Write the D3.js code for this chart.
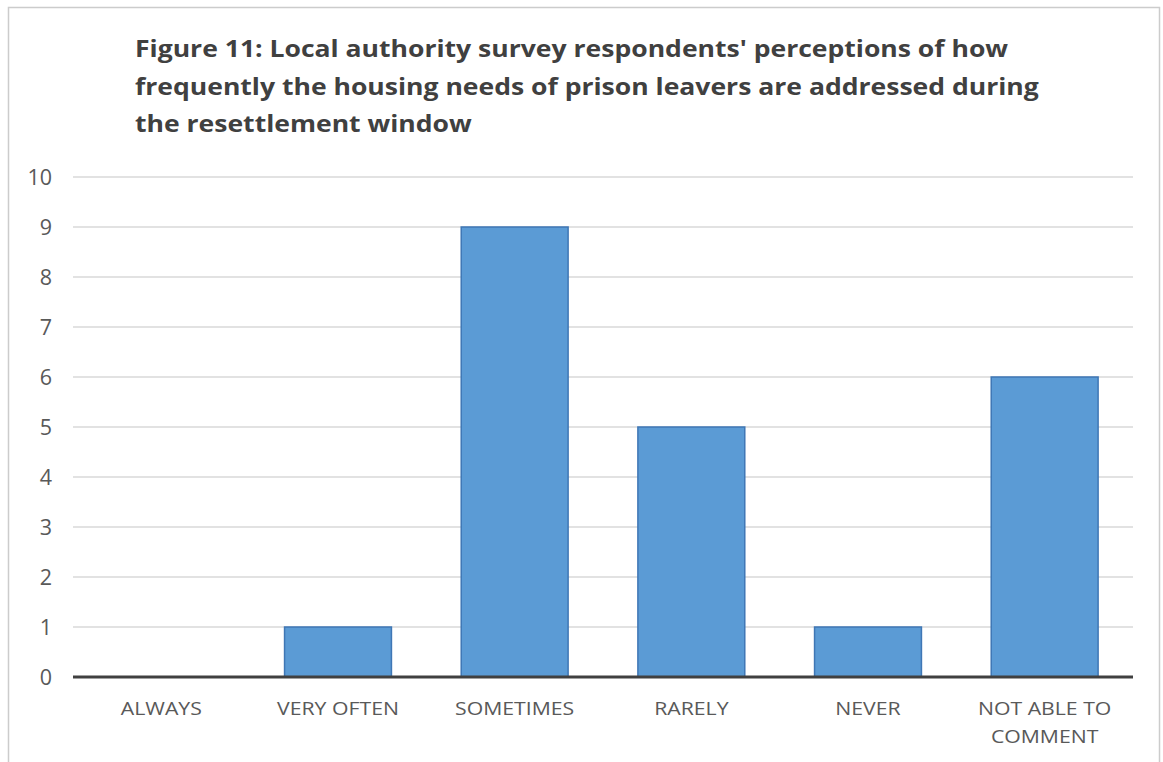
<!DOCTYPE html>
<html><head><meta charset="utf-8">
<script src="https://cdn.jsdelivr.net/npm/d3@7"></script>
<style>body{margin:0;background:#fff;}svg{display:block;}</style>
</head><body>
<script>
const categories = [["ALWAYS"],["VERY OFTEN"],["SOMETIMES"],["RARELY"],["NEVER"],["NOT ABLE TO","COMMENT"]];
const values = [0,1,9,5,1,6];
const yTicks = [0,1,2,3,4,5,6,7,8,9,10];
const titleLines = ["Figure 11: Local authority survey respondents' perceptions of how",
  "frequently the housing needs of prison leavers are addressed during",
  "the resettlement window"];

const W=1163,H=762;
const svg=d3.select("body").append("svg").attr("width",W).attr("height",H);
svg.append("rect").attr("x",8.5).attr("y",7.5).attr("width",1151).attr("height",800)
  .attr("fill","#fff").attr("stroke","#cccccc").attr("stroke-width",1.5);

const font="'Open Sans', sans-serif";
const sx=1.18;
svg.append("g").selectAll("text").data(titleLines).join("text")
  .attr("transform",(d,i)=>`translate(135,${57+i*37.5}) scale(${sx},1)`)
  .attr("font-family",font).attr("font-weight","bold").attr("font-size",22.5)
  .attr("fill","#404040").text(d=>d);

const x=d3.scaleBand().domain(categories.map((d,i)=>i)).range([73,1133]).paddingInner(0.395).paddingOuter(0.1975);
const y=d3.scaleLinear().domain([0,10]).range([677,177]);

const grid=svg.append("g");
grid.selectAll("line").data(yTicks.filter(t=>t>0)).join("line")
  .attr("x1",73).attr("x2",1133).attr("y1",d=>y(d)).attr("y2",d=>y(d))
  .attr("stroke","#d9d9d9").attr("stroke-width",1.5);

const yAxis=svg.append("g").attr("transform","translate(73,0)")
  .call(d3.axisLeft(y).tickValues(yTicks).tickSize(0).tickPadding(21));
yAxis.select(".domain").remove();
yAxis.selectAll("text").attr("font-family",font).attr("font-size",21.5).attr("fill","#595959").attr("dy","0.36em");

svg.append("g").selectAll("rect").data(values).join("rect")
  .attr("x",(d,i)=>x(i)).attr("width",x.bandwidth())
  .attr("y",d=>y(d)).attr("height",d=>y(0)-y(d))
  .attr("fill","#5b9bd5").attr("stroke","#3f77b5").attr("stroke-width",1.5);

svg.append("line").attr("x1",73).attr("x2",1133).attr("y1",y(0)).attr("y2",y(0))
  .attr("stroke","#404040").attr("stroke-width",3);

const xl=svg.append("g");
categories.forEach((c,i)=>{
  const cx=x(i)+x.bandwidth()/2;
  c.forEach((s,j)=>xl.append("text")
    .attr("transform",`translate(${cx},${715+j*28}) scale(${sx},1)`)
    .attr("text-anchor","middle").attr("font-family",font).attr("font-size",18)
    .attr("fill","#595959").text(s));
});
</script>
</body></html>
